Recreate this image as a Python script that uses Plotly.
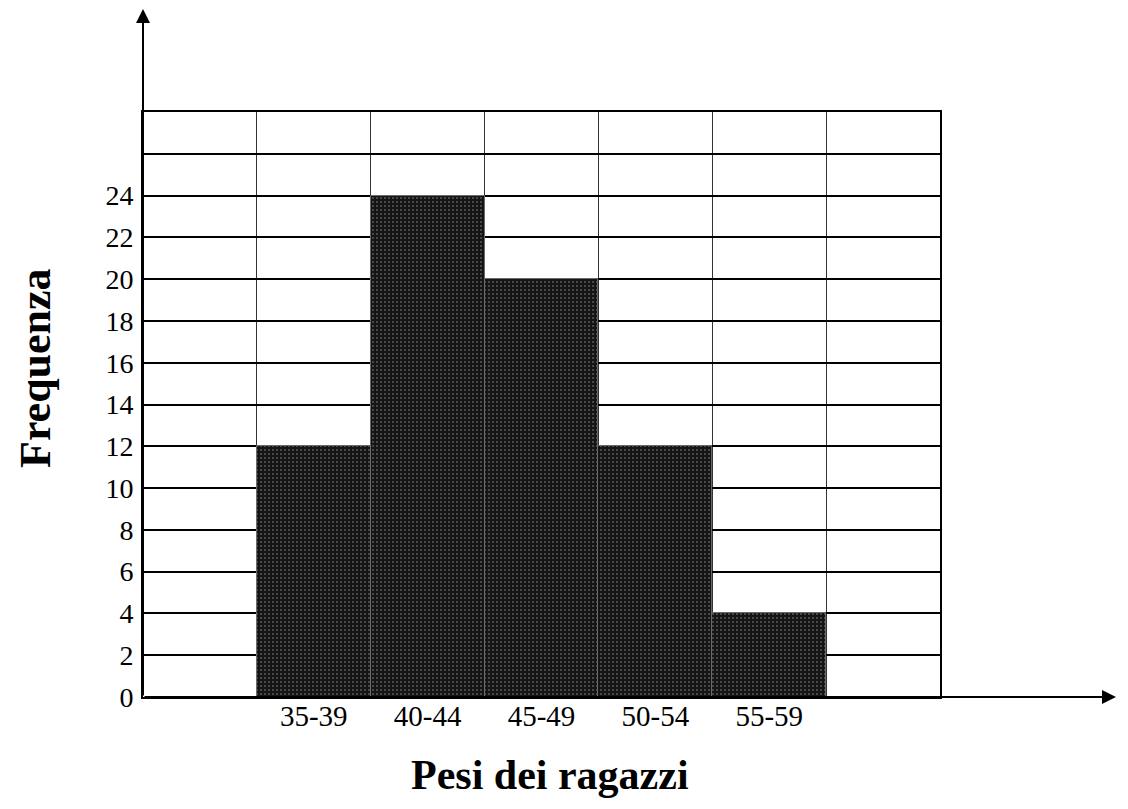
import plotly.graph_objects as go

categories = ["35-39", "40-44", "45-49", "50-54", "55-59"]
frequencies = [12, 24, 20, 12, 4]
y_tick_values = [0, 2, 4, 6, 8, 10, 12, 14, 16, 18, 20, 22, 24, 26]
y_tick_labels = ["0", "2", "4", "6", "8", "10", "12", "14", "16", "18", "20", "22", "24", ""]
x_title = "Pesi dei ragazzi"
y_title = "Frequenza"

positions = list(range(len(categories)))

fig = go.Figure()
fig.add_trace(go.Bar(
    x=positions,
    y=frequencies,
    width=1.0,
    marker=dict(
        color="#151515",
        line=dict(color="#6a6a6a", width=1),
        pattern=dict(shape=".", fgcolor="#a0a0a0", bgcolor="#151515", size=4, solidity=0.2),
    ),
    hoverinfo="skip",
))

serif = "Liberation Serif, Times New Roman, serif"
boundaries = [p - 0.5 for p in positions] + [positions[-1] + 0.5]

# page body has an 8px margin; compensate so the plot sits where the reference has it
PLOT_H = 585
PLOT_W = 797

fig.update_layout(
    width=1120,
    height=801,
    margin=dict(l=135, r=188, t=104, b=112),
    paper_bgcolor="white",
    plot_bgcolor="white",
    showlegend=False,
    bargap=0,
    font=dict(family=serif, color="black", size=28),
    xaxis=dict(
        range=[-1.5, len(categories) + 0.5],
        tickvals=positions,
        ticktext=categories,
        showgrid=False,
        zeroline=False,
        showline=True,
        linecolor="black",
        linewidth=2,
        mirror=True,
        ticks="",
        ticklabelstandoff=-8,
        tickfont=dict(family=serif, size=29, color="black"),
        minor=dict(tickvals=boundaries, showgrid=True, gridcolor="#333333", gridwidth=1, ticks=""),
        fixedrange=True,
    ),
    yaxis=dict(
        range=[0, 28],
        tickvals=y_tick_values,
        ticktext=y_tick_labels,
        showgrid=True,
        gridcolor="black",
        gridwidth=2,
        zeroline=False,
        showline=True,
        linecolor="black",
        linewidth=2,
        mirror=True,
        ticks="",
        ticklabelstandoff=2,
        tickfont=dict(family=serif, size=28, color="black"),
        fixedrange=True,
    ),
    annotations=[
        dict(xref="paper", yref="paper", x=0, y=(697 - 8) / PLOT_H, ax=0, ay=689,
             axref="pixel", ayref="pixel", showarrow=True, arrowhead=2, arrowsize=1.4,
             arrowwidth=2, arrowcolor="black", text=""),
        dict(xref="paper", yref="paper", x=(1116 - 143) / PLOT_W, y=0, ax=-973, ay=0,
             axref="pixel", ayref="pixel", showarrow=True, arrowhead=2, arrowsize=1.4,
             arrowwidth=2, arrowcolor="black", text=""),
        dict(xref="paper", yref="paper", x=(550 - 143) / PLOT_W, y=-(775 - 697) / PLOT_H,
             text="<b>" + x_title + "</b>", showarrow=False,
             font=dict(family=serif, size=42, color="black"), xanchor="center", yanchor="middle"),
        dict(xref="paper", yref="paper", x=-(143 - 35) / PLOT_W, y=(697 - 368) / PLOT_H,
             text="<b>" + y_title + "</b>", showarrow=False, textangle=-90,
             font=dict(family=serif, size=44, color="black"), xanchor="center", yanchor="middle"),
    ],
)

fig.write_html("out.html")
